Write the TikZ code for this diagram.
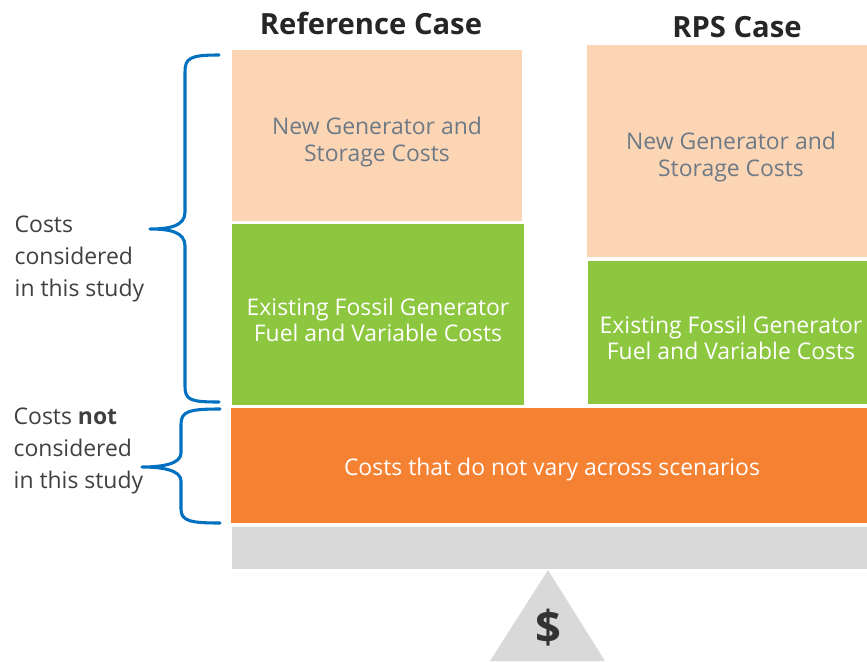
\documentclass[tikz,border=0pt]{standalone}
\usepackage{fontspec}
\setmainfont{Open Sans}
\usepackage{tikz}
\usepackage{xcolor}
\definecolor{peach}{HTML}{FCD5B5}
\definecolor{leaf}{HTML}{8DC63F}
\definecolor{tangerine}{HTML}{F58233}
\definecolor{slab}{HTML}{D9D9D9}
\definecolor{bracket}{HTML}{0070C0}
\definecolor{ink}{HTML}{404040}
\definecolor{softink}{HTML}{6D7A85}
\tikzset{
 boxtext/.style={align=center, font=\fontsize{17.2}{19.6}\selectfont},
 sidetext/.style={align=left, anchor=west, text=ink, font=\fontsize{17.2}{24}\selectfont},
 title/.style={text=black!85, font=\bfseries\fontsize{21.9}{25}\selectfont},
 brace/.style={draw=bracket, line width=2.3pt, line cap=round, line join=round},
 }

\begin{document}
\begin{tikzpicture}[x=0.75pt, y=-0.75pt]
        \useasboundingbox (0, 0) rectangle (867, 661);

        % titles
        \node[title] (reftitle) at (371, 23) {Reference Case};
        \node[title] (rpstitle) at (737, 27) {RPS Case};

        % reference case stack
        \fill[peach] (232, 50) rectangle (522, 221);
        \node[boxtext, text=softink] (refnew) at (377, 142) {New Generator and\\Storage Costs};

        \fill[leaf] (232, 224) rectangle (524, 405);
        \node[boxtext, text=white] (reffossil) at (378, 320) {Existing Fossil Generator\\Fuel and Variable Costs};

        % rps case stack
        \fill[peach] (587, 45) rectangle (867, 257);
        \node[boxtext, text=softink] (rpsnew) at (731, 157) {New Generator and\\Storage Costs};

        \fill[leaf] (588, 261) rectangle (867, 404);
        \node[boxtext, text=white] (rpsfossil) at (731, 338) {Existing Fossil Generator\\Fuel and Variable Costs};

        % shared base
        \fill[tangerine] (231, 408) rectangle (867, 523);
        \node[boxtext, text=white] (fixed) at (552, 470) {Costs that do not vary across scenarios};

        \fill[slab] (232, 527) rectangle (867, 569);

        % balance point
        \fill[slab] (548, 570) -- (605, 661) -- (490, 661) -- cycle;
        \node[text=black!80, font=\bfseries\fontsize{34}{34}\selectfont] (dollar) at (548, 628) {\$};

        % braces
        \draw[brace] (219, 55) .. controls (190, 55) and (185, 58) .. (185, 72)
            -- (185, 212) .. controls (185, 226) and (170, 229) .. (150, 229)
            .. controls (170, 229) and (185, 232) .. (185, 246)
            -- (185, 386) .. controls (185, 400) and (190, 402) .. (219, 402);
        \draw[brace] (220, 409) .. controls (190, 409) and (181, 411) .. (181, 424)
            -- (181, 453) .. controls (181, 464) and (162, 467) .. (142, 467)
            .. controls (162, 467) and (181, 470) .. (181, 481)
            -- (181, 509) .. controls (181, 521) and (190, 523) .. (220, 523);

        % side labels
        \node[sidetext] (inscope) at (10, 259) {Costs\\considered\\in this study};
        \node[sidetext] (outscope) at (9, 451) {Costs \textbf{not}\\considered\\in this study};
    \end{tikzpicture}
\end{document}
